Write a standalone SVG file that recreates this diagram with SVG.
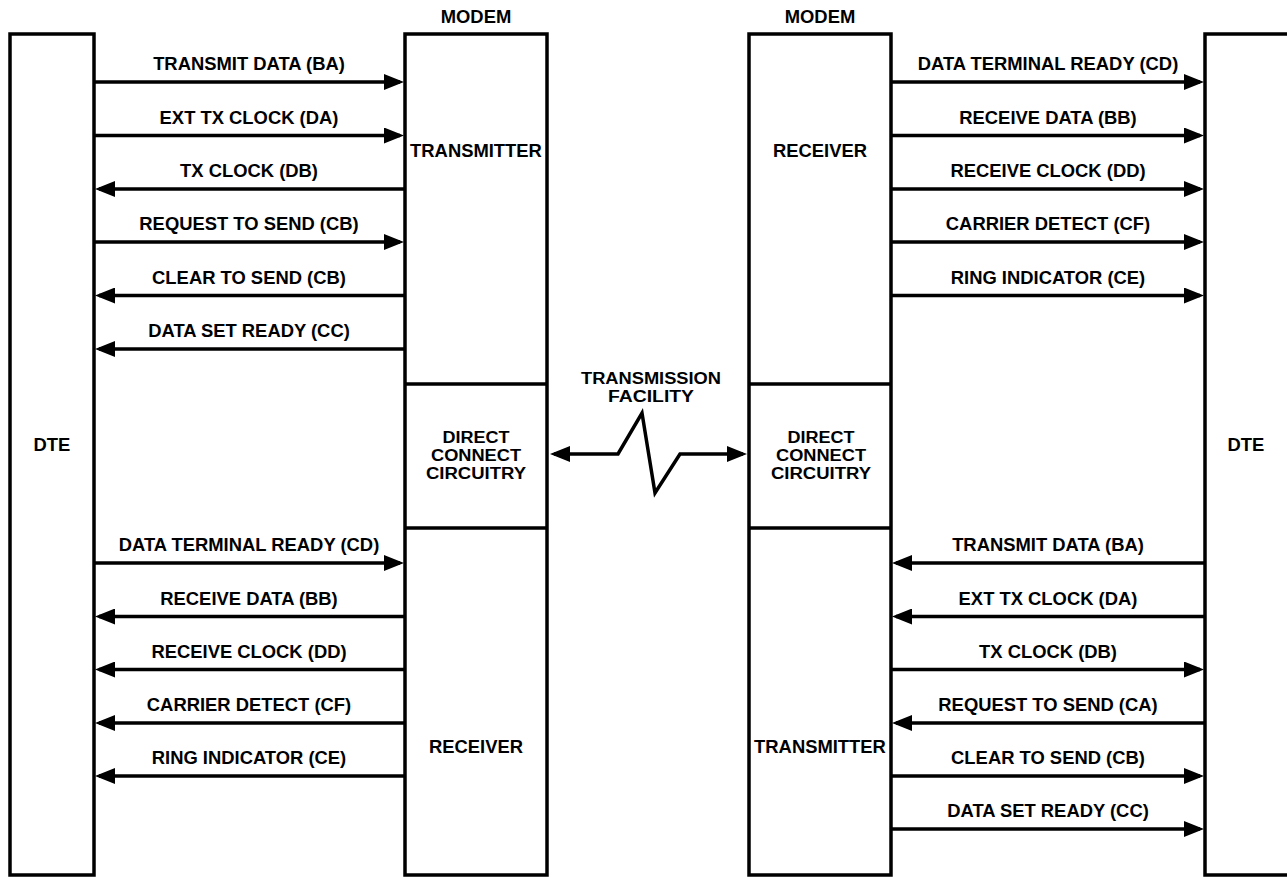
<svg xmlns="http://www.w3.org/2000/svg" width="1287" height="877" viewBox="0 0 1287 877">
<defs>
<style>
.box{fill:#fff;stroke:#000;stroke-width:3.5}
.div{stroke:#000;stroke-width:3.5}
.ln{fill:none;stroke:#000;stroke-width:3.5;marker-end:url(#ah)}
.zz{fill:none;stroke:#000;stroke-width:3.5;stroke-linejoin:miter;marker-start:url(#ah2);marker-end:url(#ah)}
text{font-family:"Liberation Sans",Arial,sans-serif;font-weight:bold;font-size:18.4px;fill:#000;text-anchor:middle}
text.dc{font-size:16px}
</style>
<marker id="ah" viewBox="0 0 20 16" refX="16" refY="8" markerWidth="20" markerHeight="16" markerUnits="userSpaceOnUse" orient="auto">
<path d="M0,0 L20,8 L0,16 z" fill="#000"/>
</marker>
<marker id="ah2" viewBox="0 0 20 16" refX="16" refY="8" markerWidth="20" markerHeight="16" markerUnits="userSpaceOnUse" orient="auto-start-reverse">
<path d="M0,0 L20,8 L0,16 z" fill="#000"/>
</marker>
</defs>
<rect width="1287" height="877" fill="#fff"/>

<g id="dte-left">
<rect class="box" x="10" y="34" width="84" height="841"/>
<text x="52" y="451">DTE</text>
</g>
<g id="modem-left">
<text x="476" y="23">MODEM</text>
<rect class="box" x="405" y="34" width="142" height="841"/>
<line class="div" x1="405" y1="384" x2="547" y2="384"/>
<line class="div" x1="405" y1="528" x2="547" y2="528"/>
<text x="476" y="157">TRANSMITTER</text>
<text class="dc" x="476" y="443" textLength="67" lengthAdjust="spacingAndGlyphs">DIRECT</text>
<text class="dc" x="476" y="461" textLength="90" lengthAdjust="spacingAndGlyphs">CONNECT</text>
<text class="dc" x="476" y="479" textLength="100" lengthAdjust="spacingAndGlyphs">CIRCUITRY</text>
<text x="476" y="753">RECEIVER</text>
</g>
<g id="modem-right">
<text x="820" y="23">MODEM</text>
<rect class="box" x="749" y="34" width="142" height="841"/>
<line class="div" x1="749" y1="384" x2="891" y2="384"/>
<line class="div" x1="749" y1="528" x2="891" y2="528"/>
<text x="820" y="157">RECEIVER</text>
<text class="dc" x="821" y="443" textLength="67" lengthAdjust="spacingAndGlyphs">DIRECT</text>
<text class="dc" x="821" y="461" textLength="90" lengthAdjust="spacingAndGlyphs">CONNECT</text>
<text class="dc" x="821" y="479" textLength="100" lengthAdjust="spacingAndGlyphs">CIRCUITRY</text>
<text x="820" y="753">TRANSMITTER</text>
</g>
<g id="dte-right">
<rect class="box" x="1205" y="34" width="90" height="841"/>
<text x="1246" y="451">DTE</text>
</g>
<g id="facility">
<text class="dc" x="651" y="384" textLength="140" lengthAdjust="spacingAndGlyphs">TRANSMISSION</text>
<text class="dc" x="651" y="402" textLength="86" lengthAdjust="spacingAndGlyphs">FACILITY</text>
</g>

<g id="connectors">
<polyline class="zz" points="554,454 618,454 642,413 655,493 680,454 743,454"/>

<line class="ln" x1="94" y1="82" x2="400" y2="82"/>
<line class="ln" x1="94" y1="135.5" x2="400" y2="135.5"/>
<line class="ln" x1="405" y1="189" x2="99" y2="189"/>
<line class="ln" x1="94" y1="242" x2="400" y2="242"/>
<line class="ln" x1="405" y1="295.5" x2="99" y2="295.5"/>
<line class="ln" x1="405" y1="349" x2="99" y2="349"/>
<line class="ln" x1="94" y1="563" x2="400" y2="563"/>
<line class="ln" x1="405" y1="616.5" x2="99" y2="616.5"/>
<line class="ln" x1="405" y1="669.5" x2="99" y2="669.5"/>
<line class="ln" x1="405" y1="723" x2="99" y2="723"/>
<line class="ln" x1="405" y1="776" x2="99" y2="776"/>

<line class="ln" x1="891" y1="82" x2="1200" y2="82"/>
<line class="ln" x1="891" y1="135.5" x2="1200" y2="135.5"/>
<line class="ln" x1="891" y1="189" x2="1200" y2="189"/>
<line class="ln" x1="891" y1="242" x2="1200" y2="242"/>
<line class="ln" x1="891" y1="295.5" x2="1200" y2="295.5"/>
<line class="ln" x1="1205" y1="563" x2="896" y2="563"/>
<line class="ln" x1="1205" y1="616.5" x2="896" y2="616.5"/>
<line class="ln" x1="891" y1="669.5" x2="1200" y2="669.5"/>
<line class="ln" x1="1205" y1="723" x2="896" y2="723"/>
<line class="ln" x1="891" y1="776" x2="1200" y2="776"/>
<line class="ln" x1="891" y1="829" x2="1200" y2="829"/>

<text x="249" y="70">TRANSMIT DATA (BA)</text>
<text x="249" y="123.5">EXT TX CLOCK (DA)</text>
<text x="249" y="177">TX CLOCK (DB)</text>
<text x="249" y="230">REQUEST TO SEND (CB)</text>
<text x="249" y="283.5">CLEAR TO SEND (CB)</text>
<text x="249" y="337">DATA SET READY (CC)</text>
<text x="249" y="551">DATA TERMINAL READY (CD)</text>
<text x="249" y="604.5">RECEIVE DATA (BB)</text>
<text x="249" y="657.5">RECEIVE CLOCK (DD)</text>
<text x="249" y="711">CARRIER DETECT (CF)</text>
<text x="249" y="764">RING INDICATOR (CE)</text>

<text x="1048" y="70">DATA TERMINAL READY (CD)</text>
<text x="1048" y="123.5">RECEIVE DATA (BB)</text>
<text x="1048" y="177">RECEIVE CLOCK (DD)</text>
<text x="1048" y="230">CARRIER DETECT (CF)</text>
<text x="1048" y="283.5">RING INDICATOR (CE)</text>
<text x="1048" y="551">TRANSMIT DATA (BA)</text>
<text x="1048" y="604.5">EXT TX CLOCK (DA)</text>
<text x="1048" y="657.5">TX CLOCK (DB)</text>
<text x="1048" y="711">REQUEST TO SEND (CA)</text>
<text x="1048" y="764">CLEAR TO SEND (CB)</text>
<text x="1048" y="817">DATA SET READY (CC)</text>
</g>
</svg>
